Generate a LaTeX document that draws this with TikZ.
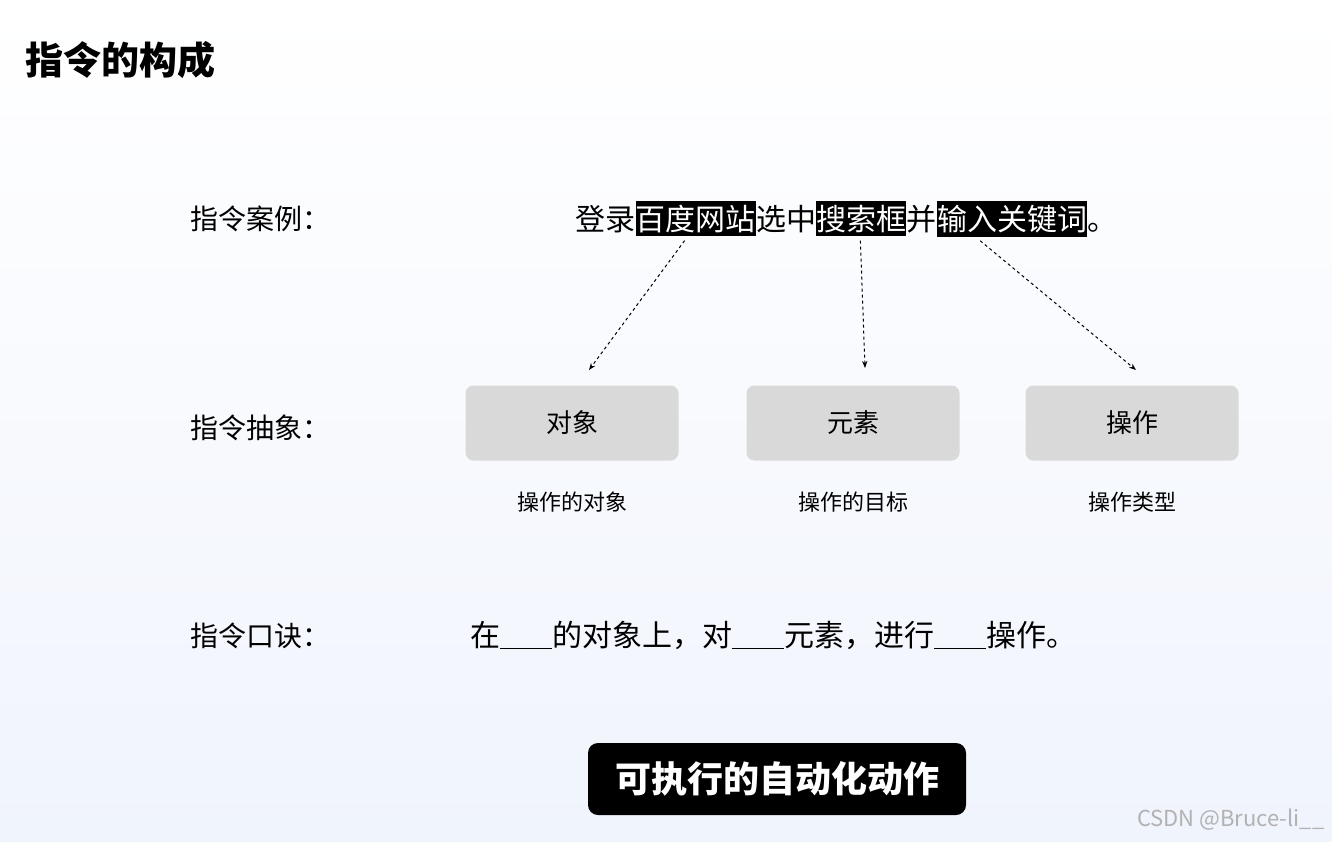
\documentclass[tikz,border=0pt]{standalone}
\usepackage{fontspec}
\setmainfont{Noto Sans CJK SC}
\usetikzlibrary{positioning,arrows.meta}
\definecolor{boxgray}{RGB}{217,217,217}
\definecolor{bgblue}{RGB}{240,244,252}
\tikzset{
  lbl/.style={anchor=base west,font=\fontsize{28}{32}\selectfont},
  word/.style={anchor=base west,inner sep=0pt,font=\fontsize{30}{34}\selectfont},
  hl/.style={word,fill=black,text=white,inner ysep=4pt},
  absbox/.style={fill=boxgray,rounded corners=8pt,minimum width=213pt,minimum height=75pt,
    font=\fontsize{26}{30}\selectfont},
  sub/.style={font=\fontsize{22}{26}\selectfont},
  dasharrow/.style={dashed,line width=1pt,-{Stealth[length=7pt]}}
}
\begin{document}
\begin{tikzpicture}[x=1pt,y=-1pt]
  \useasboundingbox (0,0) rectangle (1332,841);
  \shade[top color=white,bottom color=bgblue] (0,0) rectangle (1332,841);
  % title
  \node[anchor=base west,font=\fontsize{38}{42}\selectfont\bfseries] (title) at (22,74) {指令的构成};
  % row labels
  \node[lbl] (lcase) at (187,229) {指令案例：};
  \node[lbl] (labs) at (187,438) {指令抽象：};
  \node[lbl] (lrhyme) at (187,646) {指令口诀：};
  % example sentence
  \node[word] (s1) at (575,230) {登录};
  \node[hl] (s2) at (s1.base east) {百度网站};
  \node[word] (s3) at (s2.base east) {选中};
  \node[hl] (s4) at (s3.base east) {搜索框};
  \node[word] (s5) at (s4.base east) {并};
  \node[hl] (s6) at (s5.base east) {输入关键词};
  \node[word] (s7) at (s6.base east) {。};
  % abstraction boxes
  \node[absbox] (obj) at (572,423) {对象};
  \node[absbox] (elem) at (853,423) {元素};
  \node[absbox] (act) at (1132,423) {操作};
  \node[sub,below=28pt of obj] (objd) {操作的对象};
  \node[sub,below=28pt of elem] (elemd) {操作的目标};
  \node[sub,below=28pt of act] (actd) {操作类型};
  % arrows
  \coordinate (e1) at (589,370);
  \coordinate (e2) at (865,368);
  \coordinate (e3) at (1136,370);
  \draw[dasharrow] ([xshift=-11pt,yshift=-4pt]s2.south) -- (e1);
  \draw[dasharrow] ([xshift=-1pt,yshift=-4pt]s4.south) -- (e2);
  \draw[dasharrow] ([xshift=-32pt,yshift=-4pt]s6.south) -- (e3);
  % rhyme
  \node[word] (rhyme) at (470,646) {在\rule[-3pt]{52pt}{1.5pt}的对象上，对\rule[-3pt]{52pt}{1.5pt}元素，进行\rule[-3pt]{52pt}{1.5pt}操作。};
  % caption
  \node[fill=black,text=white,rounded corners=10pt,minimum width=378pt,minimum height=72pt,
    font=\fontsize{36}{40}\selectfont\bfseries] (cap) at (777,779) {可执行的自动化动作};
  \node[anchor=east,text=gray!60,font=\fontsize{22}{26}\selectfont] (mark) at (1328,820) {CSDN @Bruce-li\_\_};
\end{tikzpicture}
\end{document}
